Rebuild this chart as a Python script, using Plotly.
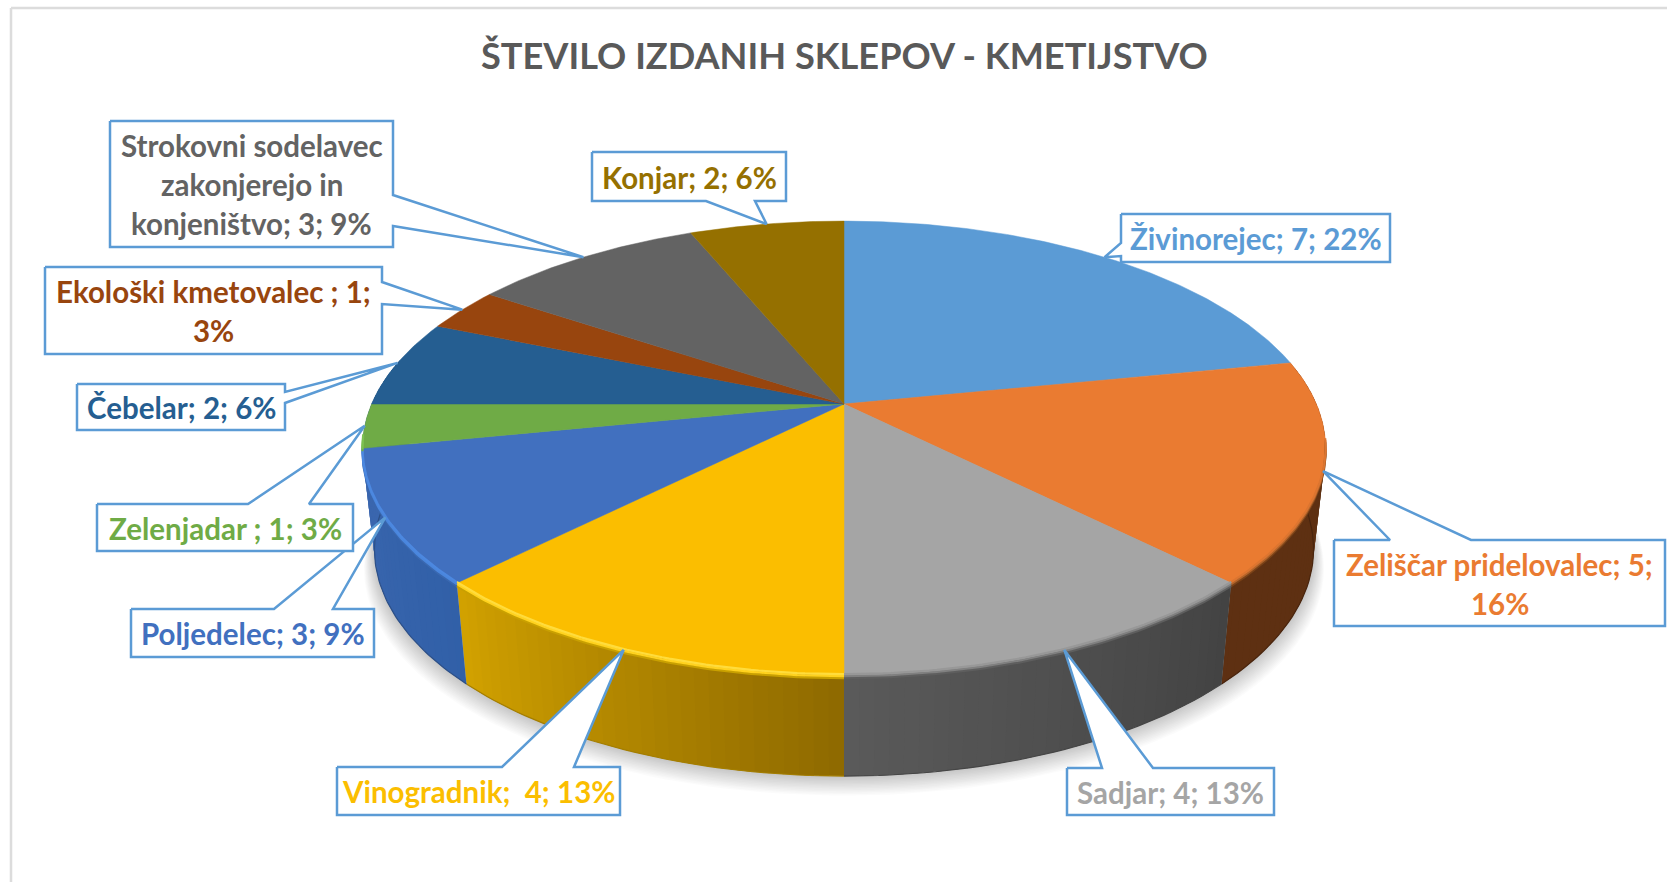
import numpy as np
import plotly.graph_objects as go

# ---- data ----
names = ["Živinorejec", "Zeliščar pridelovalec", "Sadjar", "Vinogradnik", "Poljedelec",
         "Zelenjadar ", "Čebelar", "Ekološki kmetovalec ",
         "Strokovni sodelavec zakonjerejo in konjeništvo", "Konjar"]
values = [7, 5, 4, 4, 3, 1, 2, 1, 3, 2]
title = "ŠTEVILO IZDANIH SKLEPOV - KMETIJSTVO"

# ---- styles ----
top_colors = ["#5B9BD5", "#EA7B31", "#A5A5A5", "#FBBE00", "#4170BF",
              "#6FAB46", "#255E91", "#98450E", "#636363", "#957000"]
text_colors = top_colors
# wall colour as (start of slice clockwise, end of slice clockwise)
wall_colors = [("#5E3012", "#5E3012"), ("#5E3012", "#5E3012"), ("#434343", "#5A5A5A"),
               ("#8E6900", "#D2A200"), ("#3160A8", "#3A66AE"), ("#3A66AE", "#3A66AE"),
               ("#1E4A75", "#1E4A75"), ("#783A0C", "#783A0C"), ("#444444", "#444444"),
               ("#6E5200", "#6E5200")]
# bevel colours, from the top face outwards to the wall
rim_bands = {1: ["#7A4218", "#B3642A", "#DC7530"],
             2: ["#5E5E5E", "#808080", "#989898"],
             3: ["#C9A000", "#FFD21E", "#FFDC3C"],
             4: ["#3A68B0", "#4A86DC", "#4C88E0"],
             5: ["#6FAB46", "#7CC050", "#7CC050"]}
line_breaks = {1: "{n}; {v};<br>{p}%", 7: "{n}; {v};<br>{p}%",
               8: "Strokovni sodelavec<br>zakonjerejo in<br>konjeništvo; {v}; {p}%",
               3: "{n};  {v}; {p}%"}
# callouts: box x0, y0, x1, y1, side carrying the wedge, wedge base a, b
callouts = [(1121, 214, 1390, 262, "left", 243, 256),
            (1334, 540, 1665, 626, "top", 1390, 1471),
            (1067, 768, 1274, 815, "top", 1102, 1153),
            (337, 767, 620, 815, "top", 502, 574),
            (131, 609, 374, 657, "top", 274, 333),
            (97, 504, 353, 551, "top", 248, 309),
            (77, 384, 285, 430, "right", 392, 403),
            (45, 267, 382, 354, "right", 282, 304),
            (110, 121, 393, 247, "right", 195, 226),
            (592, 152, 786, 201, "bottom", 706, 755)]
LINE = "#5B9BD5"
W, H = 1667, 882
CX, CY = 844.0, 404.0
UP, DOWN, HALF = 182.9, 271.1, 481.6
K = (DOWN - UP) / (DOWN + UP)
B = UP * (1 + K)
A = HALF * np.sqrt(1 - K * K)
DROP, SHRINK = 101.0, 0.975


def proj(deg, scale=1.0, dy=0.0):
    t = np.radians(deg)
    u, v = np.sin(t), np.cos(t)
    d = 1 + K * v
    return CX + scale * A * u / d, CY + dy - B * v / d


def hex2rgb(h):
    return np.array([int(h[i:i + 2], 16) for i in (1, 3, 5)], float)


def mix(a, b, f):
    c = hex2rgb(a) * (1 - f) + hex2rgb(b) * f
    return "rgb(%d,%d,%d)" % tuple(c.round())


total = sum(values)
edges = np.cumsum([0] + values) / total * 360.0
fig = go.Figure()


def poly(x, y, fill, line=None, width=0, name=""):
    fig.add_trace(go.Scatter(x=list(x), y=list(y), mode="lines", fill="toself", fillcolor=fill,
                             line=dict(color=line or fill, width=width), hoverinfo="skip",
                             showlegend=False, name=name))


def stroke(x, y, color, width):
    fig.add_trace(go.Scatter(x=x, y=y, mode="lines", hoverinfo="skip", showlegend=False,
                             line=dict(color=color, width=width)))


# soft shadow below the pie
ring = np.linspace(0, 360, 241)
for i in range(14, 0, -1):
    x, y = proj(ring, SHRINK * (1 + 0.0016 * i), DROP + 1.4 * i)
    poly(x, y, "rgba(0,0,0,0.014)")

# side wall: narrow overlapping strips shaded across each slice
WALL_FROM, WALL_TO = 78.75, 282.0
for i, (s, e) in enumerate(zip(edges[:-1], edges[1:])):
    lo, hi = max(s, WALL_FROM), min(e, WALL_TO)
    if hi <= lo:
        continue
    steps = np.arange(lo, hi, 1.5).tolist() + [hi]
    for a, b in zip(steps[:-1], steps[1:]):
        f = ((a + b) / 2 - s) / (e - s)
        c = mix(wall_colors[i][0], wall_colors[i][1], f)
        seg = np.linspace(a, min(b + 1.0, hi), 4)
        xt, yt = proj(seg)
        xb, yb = proj(seg, SHRINK, DROP)
        poly(np.r_[xt, xb[::-1]], np.r_[yt, yb[::-1]], c)
    # slightly darker lower edge
    arc = np.linspace(lo, hi, 40)
    xb, yb = proj(arc, SHRINK, DROP)
    stroke(xb, yb, mix(wall_colors[i][1], "#000000", 0.22), 1.2)

# top face
for i, (s, e) in enumerate(zip(edges[:-1], edges[1:])):
    arc = np.linspace(s, e, max(int(e - s) * 2, 8))
    x, y = proj(arc)
    poly(np.r_[CX, x, CX], np.r_[CY, y, CY], top_colors[i], top_colors[i], 0.5, names[i])

# bevel along the visible front rim
for i, (s, e) in enumerate(zip(edges[:-1], edges[1:])):
    lo, hi = max(s, 99.0), min(e, 262.0)
    if hi <= lo or i not in rim_bands:
        continue
    arc = np.linspace(lo, hi, 60)
    x, y = proj(arc)
    for offset, col, wid in zip((3.0, 1.0, -1.0), rim_bands[i], (2.2, 2.2, 2.2)):
        stroke(x, y + offset, col, wid)

# callouts and their labels; wedge tip sits on the rim at the slice's middle angle
annotations = []
FONT = "Lato"
for i, (x0, y0, x1, y1, side, p, q) in enumerate(callouts):
    tx, ty = proj((edges[i] + edges[i + 1]) / 2)
    tx, ty = float(tx), float(ty)
    if side == "top":
        px = [x0, p, tx, q, x1, x1, x0, x0]
        py = [y0, y0, ty, y0, y0, y1, y1, y0]
    elif side == "bottom":
        px = [x0, x1, x1, q, tx, p, x0, x0]
        py = [y0, y0, y1, y1, ty, y1, y1, y0]
    elif side == "left":
        px = [x0, x1, x1, x0, x0, tx, x0, x0]
        py = [y0, y0, y1, y1, q, ty, p, y0]
    else:
        px = [x0, x1, x1, tx, x1, x1, x0, x0]
        py = [y0, y0, p, ty, q, y1, y1, y0]
    poly(px, py, "#FFFFFF", LINE, 2.5)
    pct = int(values[i] / total * 100 + 0.5)
    tpl = line_breaks.get(i, "{n}; {v}; {p}%")
    lines = tpl.format(n=names[i], v=values[i], p=pct).split("<br>")
    mid = (y0 + y1) / 2
    for j, ln in enumerate(lines):
        annotations.append(dict(x=(x0 + x1) / 2, y=mid + (j - (len(lines) - 1) / 2) * 39 + 0.5,
                                xref="x", yref="y", text=ln, showarrow=False,
                                xanchor="center", yanchor="middle",
                                font=dict(family=FONT, size=29.5, color=text_colors[i], weight=700)))

annotations.append(dict(x=CX, y=55, xref="x", yref="y", text=title, showarrow=False,
                        xanchor="center", yanchor="middle",
                        font=dict(family=FONT, size=36.2, color="#595959", weight=700)))

# chart frame
shapes = [dict(type="line", xref="x", yref="y", x0=11, y0=8, x1=W, y1=8,
               line=dict(color="#DCDCDC", width=2.5), layer="below"),
          dict(type="line", xref="x", yref="y", x0=11, y0=8, x1=11, y1=H,
               line=dict(color="#DCDCDC", width=2.5), layer="below")]

fig.update_layout(width=W, height=H, margin=dict(l=0, r=0, t=0, b=0),
                  paper_bgcolor="#FFFFFF", plot_bgcolor="#FFFFFF", showlegend=False,
                  xaxis=dict(range=[0, W], visible=False, fixedrange=True),
                  yaxis=dict(range=[H, 0], visible=False, fixedrange=True),
                  annotations=annotations, shapes=shapes)
fig.write_html("out.html", config=dict(displayModeBar=False),
               post_script="document.body.style.margin='0';document.body.style.overflow='hidden';")
